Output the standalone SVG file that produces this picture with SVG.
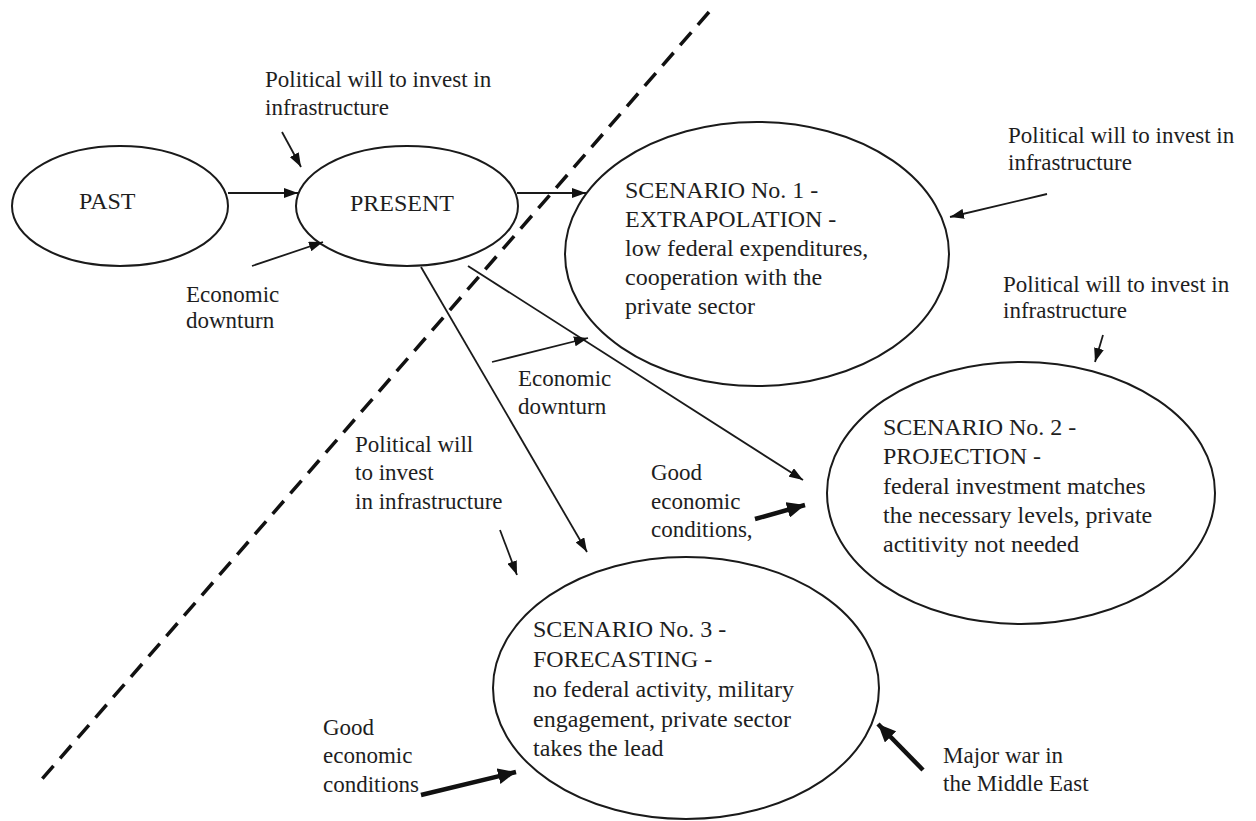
<svg xmlns="http://www.w3.org/2000/svg" width="1256" height="821" viewBox="0 0 1256 821">
  <style>
    .node { fill: #ffffff; stroke: #1a1a1a; stroke-width: 2; }
    .t { font-family: "Liberation Serif", "Times New Roman", serif; fill: #1e1e1e; }
    .big { font-size: 24px; }
    .lbl { font-size: 23px; }
    .c { stroke: #1a1a1a; stroke-width: 1.8; fill: none; marker-end: url(#ah); }
    .ck { stroke: #111111; stroke-width: 4.5; fill: none; marker-end: url(#ahb); }
    .dash { stroke: #111111; stroke-width: 3.5; stroke-dasharray: 17 10; fill: none; }
  </style>
  <defs>
    <marker id="ah" markerUnits="userSpaceOnUse" viewBox="0 0 14 10" refX="14" refY="5" markerWidth="14" markerHeight="10" orient="auto">
      <path d="M0,0 L14,5 L0,10 z" fill="#111111"/>
    </marker>
    <marker id="ahb" markerUnits="userSpaceOnUse" viewBox="0 0 18 16" refX="18" refY="8" markerWidth="18" markerHeight="16" orient="auto">
      <path d="M0,0 L18,8 L0,16 z" fill="#111111"/>
    </marker>
  </defs>
  <rect width="1256" height="821" fill="#ffffff"/>

  <line id="boundary" class="dash" x1="709" y1="12" x2="36" y2="786"/>

  <g id="past">
    <ellipse class="node" cx="120" cy="206" rx="108" ry="60"/>
    <text class="t big" x="79" y="209">PAST</text>
  </g>
  <g id="present">
    <ellipse class="node" cx="407" cy="206" rx="111" ry="60"/>
    <text class="t big" x="350" y="211">PRESENT</text>
  </g>
  <g id="scenario1">
    <ellipse class="node" cx="757" cy="254" rx="192" ry="132"/>
    <text class="t big" x="625" y="198">SCENARIO No. 1 -</text>
    <text class="t big" x="625" y="227">EXTRAPOLATION -</text>
    <text class="t big" x="625" y="256">low federal expenditures,</text>
    <text class="t big" x="625" y="285">cooperation with the</text>
    <text class="t big" x="625" y="314">private sector</text>
  </g>
  <g id="scenario2">
    <ellipse class="node" cx="1021" cy="493" rx="194" ry="131"/>
    <text class="t big" x="883" y="435">SCENARIO No. 2 -</text>
    <text class="t big" x="883" y="464">PROJECTION -</text>
    <text class="t big" x="883" y="494">federal investment matches</text>
    <text class="t big" x="883" y="523">the necessary levels, private</text>
    <text class="t big" x="883" y="552">actitivity not needed</text>
  </g>
  <g id="scenario3">
    <ellipse class="node" cx="686" cy="688" rx="193" ry="131"/>
    <text class="t big" x="533" y="637">SCENARIO No. 3 -</text>
    <text class="t big" x="533" y="667">FORECASTING -</text>
    <text class="t big" x="533" y="697">no federal activity, military</text>
    <text class="t big" x="533" y="727">engagement, private sector</text>
    <text class="t big" x="533" y="756">takes the lead</text>
  </g>

  <g id="label-political-present">
    <text class="t lbl" x="265" y="87">Political will to invest in</text>
    <text class="t lbl" x="265" y="115">infrastructure</text>
  </g>
  <g id="label-downturn-present">
    <text class="t lbl" x="186" y="302">Economic</text>
    <text class="t lbl" x="186" y="328">downturn</text>
  </g>
  <g id="label-political-s1">
    <text class="t lbl" x="1008" y="143">Political will to invest in</text>
    <text class="t lbl" x="1008" y="170">infrastructure</text>
  </g>
  <g id="label-political-s2">
    <text class="t lbl" x="1003" y="292">Political will to invest in</text>
    <text class="t lbl" x="1003" y="318">infrastructure</text>
  </g>
  <g id="label-downturn-s1">
    <text class="t lbl" x="518" y="386">Economic</text>
    <text class="t lbl" x="518" y="414">downturn</text>
  </g>
  <g id="label-political-s3">
    <text class="t lbl" x="355" y="452">Political will</text>
    <text class="t lbl" x="355" y="480">to invest</text>
    <text class="t lbl" x="355" y="509">in infrastructure</text>
  </g>
  <g id="label-good-s2">
    <text class="t lbl" x="651" y="480">Good</text>
    <text class="t lbl" x="651" y="509">economic</text>
    <text class="t lbl" x="651" y="537">conditions,</text>
  </g>
  <g id="label-good-s3">
    <text class="t lbl" x="323" y="735">Good</text>
    <text class="t lbl" x="323" y="763">economic</text>
    <text class="t lbl" x="323" y="792">conditions</text>
  </g>
  <g id="label-war-s3">
    <text class="t lbl" x="943" y="763">Major war in</text>
    <text class="t lbl" x="943" y="791">the Middle East</text>
  </g>

  <g id="connectors">
    <line class="c" x1="228" y1="193" x2="298" y2="193"/>
    <line class="c" x1="517" y1="193" x2="586" y2="193"/>
    <line class="c" x1="282" y1="132" x2="301" y2="167"/>
    <line class="c" x1="252" y1="266" x2="323" y2="242"/>
    <line class="c" x1="421" y1="267" x2="587" y2="552"/>
    <line class="c" x1="468" y1="266" x2="803" y2="480"/>
    <line class="c" x1="492" y1="362" x2="588" y2="338"/>
    <line class="c" x1="1047" y1="194" x2="950" y2="217"/>
    <line class="c" x1="1103" y1="335" x2="1095" y2="362"/>
    <line class="c" x1="500" y1="530" x2="517" y2="575"/>
    <line class="ck" x1="755" y1="519" x2="805" y2="505"/>
    <line class="ck" x1="421" y1="795" x2="516" y2="772"/>
    <line class="ck" x1="923" y1="770" x2="878" y2="724"/>
  </g>
</svg>
